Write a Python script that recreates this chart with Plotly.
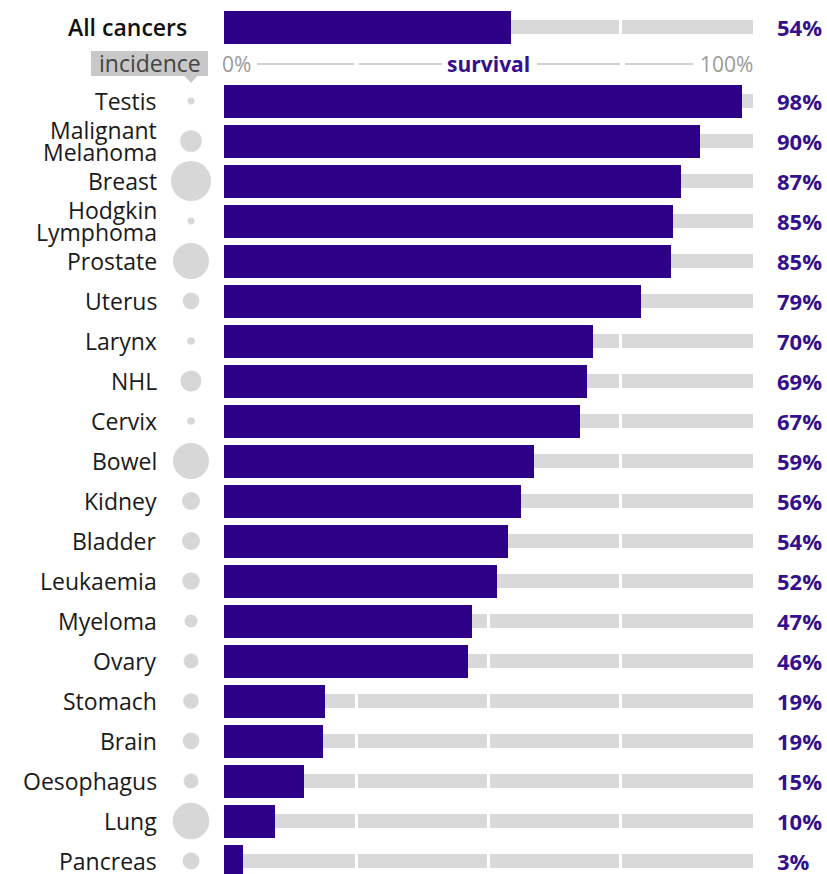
import plotly.graph_objects as go

# ---------------- data ----------------
cancers = ["Testis", "Malignant<br>Melanoma", "Breast", "Hodgkin<br>Lymphoma", "Prostate",
           "Uterus", "Larynx", "NHL", "Cervix", "Bowel", "Kidney", "Bladder", "Leukaemia",
           "Myeloma", "Ovary", "Stomach", "Brain", "Oesophagus", "Lung", "Pancreas"]
survival = [97.9, 90.0, 86.4, 84.9, 84.5, 78.8, 69.8, 68.6, 67.3, 58.6,
            56.1, 53.7, 51.6, 46.9, 46.1, 19.1, 18.7, 15.1, 9.6, 3.6]
survival_labels = ["98%", "90%", "87%", "85%", "85%", "79%", "70%", "69%", "67%", "59%",
                   "56%", "54%", "52%", "47%", "46%", "19%", "19%", "15%", "10%", "3%"]
incidence = [1.5, 14.7, 50, 1.5, 40.5, 8.7, 1.8, 13.8, 1.8, 40.5,
             10.1, 10.1, 9.6, 5.3, 7.0, 7.7, 8.7, 7.0, 42, 9.0]
all_name = "All cancers"
all_survival = 54.3
all_label = "54%"
axis_ticks = ["0%", "survival", "100%"]
incidence_title = "incidence"

# ---------------- layout helpers ----------------
W, H = 827, 874
X0 = 224.0            # pixel where 0% sits
PXPER = 5.29          # pixels per percent
def px(p):            # pixel -> data x
    return (p - X0) / PXPER

PURPLE = "#2e0088"
PCT_PURPLE = "#34108e"
GREY_BG = "#d9d9d9"
CIRCLE = "#c6c6c6"
FONT = "Open Sans"

n = len(cancers)
Y_ALL = 27
Y_AXIS = 64
ys = [101 + 40 * i for i in range(n)]
ys_all = [Y_ALL] + ys

fig = go.Figure()

# grey background track in 4 segments
gap = 3 / PXPER
for k in range(4):
    start = k * 25 + (gap / 2 if k > 0 else 0)
    end = (k + 1) * 25 - (gap / 2 if k < 3 else 0)
    fig.add_trace(go.Bar(
        y=ys_all, x=[end - start] * len(ys_all), base=[start] * len(ys_all),
        orientation="h", width=14, marker=dict(color=GREY_BG, line_width=0),
        hoverinfo="skip", showlegend=False))

# purple survival bars
fig.add_trace(go.Bar(
    y=ys_all, x=[all_survival] + survival, base=0, orientation="h", width=33,
    marker=dict(color=PURPLE, line_width=0), showlegend=False,
    hovertemplate="%{x:.0f}%<extra></extra>"))

# incidence circles
fig.add_trace(go.Scatter(
    x=[px(191)] * n, y=ys, mode="markers",
    marker=dict(size=incidence, sizemode="area", sizeref=2 * 50 / 40 ** 2,
                color=CIRCLE, line_width=0),
    showlegend=False, hoverinfo="skip"))

ann = []
# category labels
for name, y in zip(cancers, ys):
    parts = name.split("<br>")
    if len(parts) == 1:
        ann.append(dict(x=px(159), y=y, text=parts[0], xanchor="right", yanchor="middle",
                        font=dict(family=FONT, size=23, color="#1a1a1a")))
    else:
        for j, part in enumerate(parts):
            ann.append(dict(x=px(159), y=y - 11 + 22 * j, text=part, xanchor="right",
                            yanchor="middle",
                            font=dict(family=FONT, size=23, color="#1a1a1a")))
ann.append(dict(x=px(189), y=Y_ALL, text=all_name, xanchor="right", yanchor="middle",
                font=dict(family=FONT, size=23, color="#111", weight=600)))

# percent labels
for lab, y in zip([all_label] + survival_labels, ys_all):
    ann.append(dict(x=px(775), y=y, text=lab, xanchor="left", yanchor="middle",
                    font=dict(family=FONT, size=22, color=PCT_PURPLE, weight="bold")))

# axis row
ann.append(dict(x=0, y=Y_AXIS, text=axis_ticks[0], xanchor="left", yanchor="middle", xshift=-4,
                font=dict(family=FONT, size=21, color="#9a9a9a")))
ann.append(dict(x=50, y=Y_AXIS, text=axis_ticks[1], xanchor="center", yanchor="middle",
                font=dict(family=FONT, size=21, color=PCT_PURPLE, weight="bold")))
ann.append(dict(x=100, y=Y_AXIS, text=axis_ticks[2], xanchor="right", yanchor="middle", xshift=2,
                font=dict(family=FONT, size=21, color="#9a9a9a")))

# incidence tag text
ann.append(dict(x=px(149.5), y=Y_AXIS - 1, text=incidence_title, xanchor="center",
                yanchor="middle", font=dict(family=FONT, size=23, color="#444")))

for a in ann:
    a.setdefault("xref", "x")
    a.setdefault("yref", "y")
    a["showarrow"] = False

shapes = []
# incidence tag box + pointer
shapes.append(dict(type="rect", xref="x", yref="y", x0=px(91), x1=px(208), y0=51, y1=76,
                   fillcolor="#c8c8c8", line=dict(width=0), layer="below"))
shapes.append(dict(type="path", xref="x", yref="y",
                   path=f"M {px(184)} 75.5 L {px(198)} 75.5 L {px(191)} 83 Z",
                   fillcolor="#c8c8c8", line=dict(width=0), layer="below"))
for x0p, x1p in [(257, 354), (359, 442), (537, 620), (625, 693)]:
    shapes.append(dict(type="line", xref="x", yref="y", x0=px(x0p), x1=px(x1p),
                       y0=Y_AXIS, y1=Y_AXIS, line=dict(color="#d0d0d0", width=2)))

fig.update_layout(
    width=W, height=H, margin=dict(l=0, r=0, t=0, b=0),
    paper_bgcolor="white", plot_bgcolor="white",
    barmode="overlay", bargap=0,
    xaxis=dict(range=[px(0), px(W)], visible=False, fixedrange=True),
    yaxis=dict(range=[H, 0], visible=False, fixedrange=True),
    annotations=ann, shapes=shapes,
)

fig.write_html("out.html", config={"displayModeBar": False},
               post_script="document.body.style.margin='0px';document.body.style.padding='0px';")
